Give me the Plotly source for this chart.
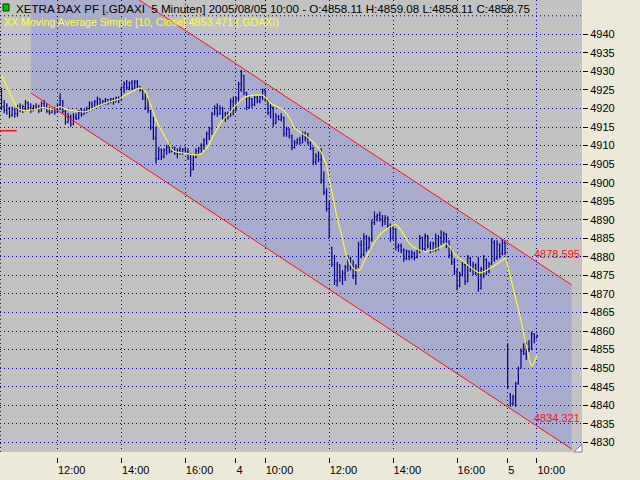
import plotly.graph_objects as go

# 5-minute bars, .GDAXI, 3-5 Aug 2005 (bar index 0 = first visible bar)
opens = [
    4924.5, 4920.5, 4919.5, 4920.0, 4918.2, 4919.8, 4918.6, 4920.6, 4919.6, 4920.5,
    4921.6, 4920.2, 4919.4, 4920.6, 4920.1, 4919.3, 4921.3, 4920.6, 4919.2, 4918.9,
    4919.8, 4919.0, 4921.0, 4922.0, 4919.2, 4916.4, 4917.8, 4915.8, 4917.6, 4917.2,
    4919.0, 4918.4, 4919.5, 4920.0, 4921.0, 4920.4, 4921.8, 4922.6, 4921.2, 4922.0,
    4922.4, 4921.6, 4922.5, 4921.8, 4922.9, 4922.4, 4925.6, 4926.8, 4925.6, 4926.9,
    4925.4, 4927.2, 4926.0, 4925.0, 4922.8, 4920.2, 4919.4, 4914.8, 4912.0, 4906.5,
    4908.9, 4907.0, 4908.8, 4909.6, 4908.3, 4909.4, 4907.9, 4908.7, 4908.0, 4908.9,
    4908.3, 4906.6, 4903.5, 4906.8, 4908.5, 4909.2, 4910.1, 4911.5, 4913.2, 4914.6,
    4918.5, 4920.2, 4918.6, 4920.0, 4917.5, 4918.6, 4917.9, 4921.9, 4919.4, 4922.8,
    4926.5, 4928.9, 4924.2, 4920.3, 4922.6, 4921.0, 4923.0, 4921.9, 4923.2, 4924.8,
    4922.3, 4918.8, 4920.3, 4916.0, 4917.9, 4917.0, 4917.6, 4913.2, 4914.5, 4912.6,
    4909.5, 4910.8, 4911.6, 4910.7, 4913.2, 4912.0, 4910.8, 4909.3, 4905.6, 4907.1,
    4906.2, 4900.6, 4897.4, 4893.0, 4882.5, 4878.0, 4873.5, 4877.8, 4874.5, 4875.6,
    4877.2, 4879.6, 4877.0, 4874.8, 4877.4, 4883.2, 4880.6, 4885.4, 4882.4, 4884.6,
    4889.2, 4890.8, 4891.2, 4890.1, 4889.6, 4890.5, 4888.4, 4885.0, 4887.4, 4882.6,
    4883.0, 4881.8, 4879.6, 4881.5, 4880.0, 4881.0, 4879.8, 4881.9, 4885.1, 4882.2,
    4885.6, 4883.0, 4881.8, 4883.6, 4882.2, 4885.2, 4884.0, 4886.2, 4882.9, 4880.4,
    4878.6, 4876.0, 4872.1, 4875.2, 4877.9, 4873.4, 4879.6, 4876.9, 4877.8, 4875.9,
    4871.5, 4876.6, 4879.2, 4876.2, 4878.1, 4883.8, 4879.6, 4883.4, 4880.8, 4883.7,
    4856.0, 4843.0, 4840.4, 4842.2, 4845.8, 4849.9, 4854.6, 4854.0, 4856.5, 4855.2,
    4859.3, 4858.11,
]
highs = [
    4925.5, 4922.3, 4921.4, 4920.5, 4920.5, 4920.2, 4921.0, 4921.4, 4921.0, 4922.3,
    4921.9, 4921.4, 4921.0, 4921.4, 4921.0, 4921.9, 4922.3, 4921.4, 4920.5, 4920.1,
    4920.5, 4921.4, 4924.1, 4922.3, 4919.6, 4918.7, 4918.3, 4918.7, 4918.7, 4919.6,
    4920.1, 4919.8, 4920.5, 4921.9, 4921.9, 4922.3, 4923.2, 4922.8, 4922.3, 4922.8,
    4922.5, 4922.8, 4922.8, 4923.2, 4923.2, 4925.9, 4927.3, 4927.7, 4927.3, 4927.7,
    4927.7, 4927.7, 4926.0, 4925.5, 4924.1, 4922.8, 4919.6, 4917.8, 4915.1, 4909.7,
    4909.2, 4909.3, 4910.2, 4910.6, 4909.7, 4909.7, 4909.3, 4909.7, 4909.3, 4909.7,
    4909.3, 4907.9, 4907.5, 4909.3, 4909.7, 4910.6, 4912.0, 4913.8, 4915.1, 4919.1,
    4920.9, 4921.4, 4920.9, 4920.5, 4919.1, 4919.2, 4922.7, 4923.2, 4923.2, 4927.2,
    4930.4, 4929.0, 4924.5, 4923.2, 4922.8, 4923.6, 4923.6, 4923.6, 4925.4, 4925.0,
    4922.4, 4921.4, 4920.5, 4918.7, 4918.2, 4918.7, 4917.8, 4915.1, 4914.6, 4913.0,
    4911.5, 4912.0, 4912.4, 4913.8, 4913.8, 4913.4, 4911.1, 4909.7, 4907.9, 4908.4,
    4909.3, 4903.0, 4898.5, 4894.9, 4882.7, 4880.5, 4878.7, 4878.0, 4876.4, 4877.8,
    4880.5, 4880.0, 4879.1, 4878.0, 4884.1, 4884.5, 4886.3, 4885.9, 4885.5, 4890.0,
    4892.2, 4891.7, 4892.2, 4891.3, 4891.3, 4890.9, 4889.0, 4888.2, 4887.7, 4883.6,
    4883.6, 4882.3, 4882.0, 4881.8, 4881.8, 4881.4, 4882.3, 4885.9, 4885.4, 4886.3,
    4885.9, 4884.1, 4884.1, 4886.3, 4885.9, 4887.2, 4886.8, 4886.3, 4884.5, 4882.3,
    4879.6, 4876.9, 4876.0, 4878.7, 4878.2, 4880.5, 4880.0, 4878.7, 4878.2, 4880.0,
    4877.3, 4880.5, 4879.6, 4878.7, 4885.0, 4884.5, 4884.5, 4883.6, 4884.8, 4884.5,
    4856.7, 4843.2, 4842.8, 4846.3, 4850.4, 4855.3, 4856.7, 4857.1, 4857.6, 4859.8,
    4859.4, 4859.08,
]
lows = [
    4919.6, 4918.7, 4918.3, 4917.4, 4917.8, 4917.5, 4917.8, 4919.0, 4918.8, 4919.2,
    4919.6, 4918.7, 4919.2, 4919.6, 4918.7, 4919.2, 4920.1, 4918.7, 4918.3, 4918.7,
    4918.3, 4919.0, 4919.6, 4918.7, 4915.6, 4916.0, 4915.1, 4915.5, 4916.9, 4917.1,
    4917.8, 4918.3, 4918.7, 4919.2, 4919.6, 4920.1, 4920.5, 4920.5, 4921.0, 4921.0,
    4921.0, 4921.4, 4921.0, 4921.8, 4921.4, 4922.4, 4924.1, 4925.0, 4925.0, 4925.0,
    4925.4, 4925.4, 4924.6, 4922.3, 4919.6, 4918.7, 4914.2, 4911.5, 4905.2, 4906.1,
    4906.1, 4906.6, 4907.5, 4907.9, 4908.3, 4907.5, 4906.6, 4907.5, 4907.5, 4908.0,
    4906.1, 4901.6, 4903.4, 4906.6, 4907.5, 4908.0, 4908.8, 4910.2, 4911.5, 4912.9,
    4918.2, 4917.8, 4918.3, 4916.9, 4916.4, 4917.0, 4917.8, 4918.2, 4919.2, 4921.8,
    4924.5, 4923.6, 4919.6, 4920.0, 4920.2, 4920.7, 4921.4, 4921.4, 4922.3, 4921.8,
    4918.2, 4917.3, 4915.1, 4915.8, 4916.8, 4916.4, 4912.4, 4912.4, 4911.9, 4908.8,
    4909.2, 4910.2, 4910.2, 4910.6, 4911.1, 4910.2, 4908.8, 4904.8, 4904.8, 4905.6,
    4899.8, 4896.7, 4892.2, 4885.0, 4877.3, 4872.4, 4872.0, 4873.3, 4872.4, 4873.5,
    4876.0, 4876.4, 4874.0, 4872.4, 4877.0, 4879.6, 4880.2, 4881.4, 4881.8, 4884.1,
    4888.6, 4889.5, 4889.5, 4888.2, 4888.6, 4887.7, 4884.1, 4884.6, 4881.8, 4881.4,
    4881.0, 4878.7, 4879.1, 4879.1, 4879.5, 4879.1, 4879.6, 4881.0, 4881.4, 4881.4,
    4882.3, 4881.0, 4881.4, 4881.4, 4881.8, 4883.2, 4883.6, 4882.3, 4879.6, 4877.8,
    4875.1, 4871.0, 4871.8, 4874.7, 4872.4, 4873.1, 4876.0, 4875.1, 4875.1, 4870.6,
    4871.2, 4874.2, 4875.1, 4875.5, 4877.8, 4878.7, 4879.2, 4879.6, 4880.4, 4880.5,
    4844.5, 4839.6, 4840.0, 4839.6, 4845.5, 4849.8, 4853.5, 4852.2, 4854.4, 4855.0,
    4856.7, 4858.11,
]
closes = [
    4920.5, 4919.5, 4920.8, 4918.2, 4919.8, 4918.6, 4920.6, 4919.6, 4920.5, 4921.6,
    4920.2, 4919.4, 4920.6, 4920.1, 4919.3, 4921.3, 4920.6, 4919.2, 4918.9, 4919.8,
    4919.0, 4921.0, 4922.9, 4919.2, 4916.4, 4917.8, 4915.8, 4917.6, 4917.2, 4919.0,
    4918.4, 4919.5, 4920.0, 4921.5, 4920.4, 4921.8, 4922.6, 4921.2, 4922.0, 4922.4,
    4921.6, 4922.5, 4921.8, 4922.9, 4922.4, 4925.6, 4926.8, 4925.6, 4926.9, 4925.4,
    4927.2, 4926.0, 4925.0, 4922.8, 4920.2, 4919.4, 4914.8, 4912.0, 4906.5, 4908.9,
    4907.0, 4908.8, 4909.6, 4908.3, 4909.4, 4907.9, 4908.7, 4908.0, 4908.9, 4908.3,
    4906.6, 4903.5, 4906.8, 4908.5, 4909.2, 4910.1, 4911.5, 4913.2, 4914.6, 4918.5,
    4920.2, 4918.6, 4920.0, 4917.5, 4918.6, 4917.9, 4921.9, 4919.4, 4922.8, 4926.5,
    4928.9, 4924.2, 4920.3, 4922.6, 4921.0, 4923.0, 4921.9, 4923.2, 4924.8, 4922.3,
    4918.8, 4920.3, 4916.0, 4917.9, 4917.0, 4917.6, 4913.2, 4914.5, 4912.6, 4909.5,
    4910.8, 4911.6, 4910.7, 4913.2, 4912.0, 4910.8, 4909.3, 4905.6, 4907.1, 4906.2,
    4900.6, 4897.4, 4893.0, 4885.6, 4878.0, 4873.5, 4877.8, 4874.5, 4875.6, 4877.2,
    4879.6, 4877.0, 4874.8, 4877.4, 4883.2, 4880.6, 4885.4, 4882.4, 4884.6, 4889.2,
    4890.8, 4891.2, 4890.1, 4889.6, 4890.5, 4888.4, 4885.0, 4887.4, 4882.6, 4883.0,
    4881.8, 4879.6, 4881.5, 4880.0, 4881.0, 4879.8, 4881.9, 4885.1, 4882.2, 4885.6,
    4883.0, 4881.8, 4883.6, 4882.2, 4885.2, 4884.0, 4886.2, 4882.9, 4880.4, 4878.6,
    4876.0, 4872.1, 4875.2, 4877.9, 4873.4, 4879.6, 4876.9, 4877.8, 4875.9, 4871.5,
    4876.6, 4879.2, 4876.2, 4878.1, 4883.8, 4879.6, 4883.4, 4880.8, 4883.7, 4881.2,
    4845.2, 4840.4, 4842.2, 4845.8, 4849.9, 4854.6, 4854.0, 4856.5, 4855.2, 4859.3,
    4858.1, 4858.75,
]
# Moving Average Simple [10, Close], as drawn
ma10 = [
    4929.1, 4927.5, 4925.9, 4924.3, 4922.8, 4921.4, 4920.1, 4919.7, 4919.5, 4919.4,
    4919.5, 4919.6, 4919.6, 4919.8, 4920.0, 4920.2, 4920.3, 4920.1, 4919.9, 4919.8,
    4920.0, 4920.3, 4920.5, 4920.2, 4919.9, 4919.7, 4919.5, 4919.4, 4919.3, 4919.2,
    4919.1, 4919.1, 4919.2, 4919.5, 4919.9, 4920.3, 4920.6, 4920.9, 4921.2, 4921.4,
    4921.7, 4921.9, 4922.1, 4922.3, 4922.5, 4922.9, 4923.4, 4923.8, 4924.2, 4924.5,
    4924.9, 4925.3, 4925.5, 4925.3, 4924.6, 4923.0, 4921.0, 4919.0, 4916.9, 4915.5,
    4914.2, 4912.9, 4911.5, 4910.2, 4909.0, 4908.4, 4908.2, 4908.1, 4908.0, 4907.9,
    4907.8, 4907.6, 4907.5, 4907.5, 4907.6, 4907.8, 4908.5, 4909.3, 4910.4, 4911.8,
    4913.3, 4914.5, 4915.9, 4916.8, 4917.6, 4918.2, 4919.1, 4920.1, 4920.9, 4921.6,
    4922.3, 4922.8, 4923.2, 4923.4, 4923.5, 4923.6, 4923.6, 4923.6, 4923.6, 4923.0,
    4922.3, 4921.4, 4921.0, 4920.7, 4920.3, 4920.0, 4919.4, 4918.6, 4917.6, 4916.2,
    4914.6, 4914.1, 4913.6, 4913.2, 4912.8, 4912.2, 4911.6, 4910.9, 4910.1, 4909.3,
    4908.2, 4906.5, 4904.5, 4901.0, 4897.5, 4894.0, 4890.5, 4887.7, 4884.8, 4881.6,
    4879.5, 4878.0, 4876.9, 4876.4, 4876.2, 4877.0, 4878.7, 4880.0, 4881.5, 4882.8,
    4884.0, 4885.0, 4885.9, 4886.6, 4887.2, 4887.7, 4888.2, 4888.6, 4888.8, 4888.1,
    4887.2, 4886.0, 4884.7, 4883.7, 4883.0, 4882.5, 4882.1, 4881.8, 4881.6, 4881.4,
    4881.5, 4881.7, 4881.8, 4882.1, 4882.4, 4882.7, 4883.2, 4883.6, 4882.8, 4882.0,
    4880.9, 4880.1, 4879.6, 4879.0, 4878.4, 4877.8, 4877.2, 4876.7, 4876.2, 4875.8,
    4875.7, 4876.0, 4876.3, 4876.8, 4877.2, 4877.6, 4878.1, 4878.6, 4879.1, 4879.6,
    4877.5, 4874.8, 4871.7, 4868.7, 4865.9, 4862.8, 4859.4, 4856.1, 4852.6, 4850.5,
    4851.6, 4853.47,
]
bar_idx = list(range(len(closes)))

# x axis labels (bar index of each label)
tick_idx = [21, 45, 69, 88, 99, 123, 147, 171, 190, 201]
tick_text = ['12:00', '14:00', '16:00', '4', '10:00', '12:00', '14:00', '16:00', '5', '10:00']
price_ticks = list(range(4830, 4945, 5))

# trend channel (start / end bar, upper and lower values)
channel_idx = [11, 214]
channel_upper = [4968.5, 4872.45]
channel_lower = [4924.2, 4828.2]
channel_labels = [4878.595, 4834.321]

# short red level on the left edge
level_idx = [-1, 5.7]
level_val = [4914.0, 4914.0]

fnt = 'Liberation Sans'
navy = '#000090'
dots = '1px,3px'

fig = go.Figure()
fig.add_trace(go.Ohlc(
    x=bar_idx, open=opens, high=highs, low=lows, close=closes,
    increasing=dict(line=dict(color=navy, width=1.2)),
    decreasing=dict(line=dict(color=navy, width=1.2)),
    tickwidth=0.35, hoverinfo='skip',
))
fig.add_trace(go.Scatter(x=bar_idx, y=ma10, mode='lines',
                         line=dict(color='#FFFF20', width=1.1, shape='spline', smoothing=0.6),
                         hoverinfo='skip'))
fig.add_trace(go.Scatter(x=channel_idx, y=channel_upper, mode='lines',
                         line=dict(color='#FF1010', width=1), hoverinfo='skip'))
fig.add_trace(go.Scatter(x=channel_idx, y=channel_lower, mode='lines',
                         line=dict(color='#FF1010', width=1), hoverinfo='skip'))
fig.add_trace(go.Scatter(x=level_idx, y=level_val, mode='lines',
                         line=dict(color='#FF1010', width=1.5), hoverinfo='skip'))

# channel shading (under the dotted grid)
path = 'M {0},{1} L {2},{3} L {2},{4} L {0},{5} Z'.format(
    channel_idx[0], channel_upper[0], channel_idx[1], channel_upper[1],
    channel_lower[1], channel_lower[0])
shapes = [
    dict(type='path', path=path, xref='x', yref='y', layer='below',
         fillcolor='#AAACCD', line=dict(width=0)),
    dict(type='line', xref='paper', x0=0, x1=1, yref='y', y0=4945, y1=4945, layer='below',
         line=dict(color=navy, width=1, dash=dots)),
    dict(type='line', xref='x', x0=-0.4, x1=-0.4, yref='paper', y0=5 / 457, y1=1, layer='below',
         line=dict(color=navy, width=1, dash=dots)),
    # legend icon
    dict(type='rect', xref='paper', yref='paper', x0=3 / 582, x1=9 / 582,
         y0=1 - 11 / 457, y1=1 - 4 / 457, fillcolor='#00C000', line=dict(color='#004000', width=1)),
    # resize grip
    dict(type='path', xref='paper', yref='paper',
         path='M 1,{0} L 1,{1} L {2},{1} Z'.format(1 - 444 / 457, 5 / 457, 1 - 8 / 582),
         fillcolor='white', line=dict(color='#808080', width=1)),
]

annotations = [
    dict(xref='paper', yref='paper', x=14 / 582, y=1, xanchor='left', yanchor='top',
         text='XETRA DAX PF [.GDAXI  5 Minuten] 2005/08/05 10:00 - O:4858.11 H:4859.08 L:4858.11 C:4858.75',
         showarrow=False, font=dict(family=fnt, size=11.6, color='black')),
    dict(xref='paper', yref='paper', x=2 / 582, y=1 - 21.7 / 457, xanchor='left', yanchor='middle',
         text='XX Moving Average Simple [10, Close] 4853.471 (.GDAXI)',
         showarrow=False, font=dict(family=fnt, size=10.6, color='#FFFF30')),
]
for v in channel_labels:
    annotations.append(dict(xref='paper', yref='y', x=1, y=v, xanchor='right', yanchor='bottom',
                            text=f'{v:.3f}', showarrow=False,
                            font=dict(family=fnt, size=11, color='#FF1010')))

fig.update_layout(
    width=640, height=480,
    margin=dict(l=0, r=58, t=0, b=23, autoexpand=False),
    paper_bgcolor='#ECE9D8', plot_bgcolor='#C2C2C2',
    showlegend=False,
    shapes=shapes, annotations=annotations,
    xaxis=dict(range=[-0.56, 217.9], tickvals=tick_idx, ticktext=tick_text,
               showgrid=True, gridcolor=navy, gridwidth=1, griddash=dots,
               ticks='outside', ticklen=5, tickcolor='black', zeroline=False,
               anchor='free', position=0, ticklabelposition='outside right',
               ticklabelstandoff=3,
               rangeslider=dict(visible=False), automargin=False,
               tickfont=dict(family=fnt, size=11, color='black')),
    yaxis=dict(range=[4827.38, 4949.25], side='right', domain=[5 / 457, 1],
               tickvals=price_ticks, showgrid=True, gridcolor=navy, gridwidth=1,
               griddash=dots, ticks='outside', ticklen=5, tickcolor='black',
               zeroline=False, automargin=False,
               tickfont=dict(family=fnt, size=11, color='black')),
)

fig.write_html('out.html', config={'displayModeBar': False},
               post_script="document.body.style.margin='0';")
